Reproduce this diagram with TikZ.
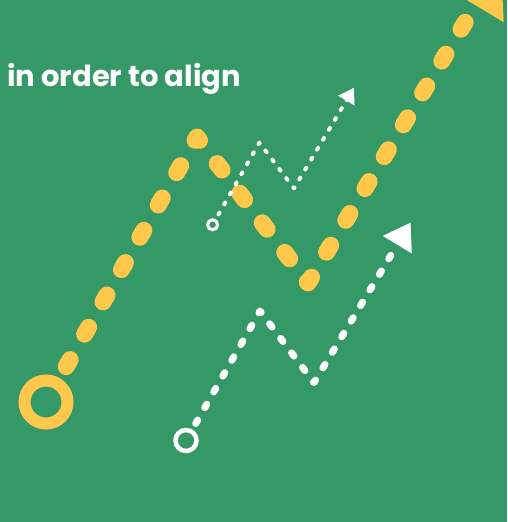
\documentclass[tikz,border=0pt]{standalone}
\usepackage{fontspec}
\newfontfamily\titlefont{Poppins}
\usetikzlibrary{
    arrows.meta,
    calc
}
\definecolor{bggreen}{RGB}{52,153,102}
\definecolor{trailyellow}{RGB}{255,200,75}

\begin{document}
\begin{tikzpicture}[x=1pt,y=-1pt,
    startring/.style={circle,draw,inner sep=0pt,outer sep=0pt},
    ytrail/.style={trailyellow,line width=17pt,line cap=round,line join=round,
        dash pattern=on 8pt off 29.2pt,-{Triangle[length=50pt,width=62pt]}},
    wtrail/.style={white,line width=7pt,line cap=round,line join=round,
        dash pattern=on 4pt off 14.2pt,-{Triangle[length=26pt,width=32pt]}},
    wdots/.style={white,line width=4pt,line cap=round,line join=round,
        dash pattern=on 2pt off 9.55pt,-{Triangle[length=15pt,width=18pt]}}
]

\useasboundingbox (0,0) rectangle (507,522);
\fill[bggreen] (0,0) rectangle (507,522);
\clip (0,0) rectangle (507,522);

\node[anchor=base west,inner sep=0pt,text=white,
      font=\titlefont\bfseries\fontsize{29}{29}\selectfont] (caption) at (7,86.5) {in order to align};

% yellow
\node[startring,draw=trailyellow,line width=12pt,minimum size=43pt] (ring) at (46,402) {};
\coordinate (ypeak) at (197,137);
\coordinate (ybot) at (308,283);
\coordinate (ytip) at (501.3,-37.6);
\draw[ytrail,dash phase=17.9pt] (ring) -- (ypeak) -- (ybot) -- (ytip);

% big white
\node[startring,draw=white,line width=4.5pt,minimum size=21pt] (bigstart) at (186,440.5) {};
\coordinate (wpeak) at (260,311);
\coordinate (wbot) at (314,382.7);
\coordinate (wtip) at (410.7,222.4);
\draw[wtrail,dash phase=9.1pt] (bigstart) -- (wpeak) -- (wbot) -- (wtip);

% small white
\node[startring,draw=white,line width=3pt,minimum size=10pt] (smallstart) at (212.6,224.8) {};
\coordinate (speak) at (259.3,142.7);
\coordinate (sbot) at (294,188.3);
\coordinate (stip) at (354,87.7);
\draw[wdots,dash phase=4.55pt] (smallstart) -- (speak) -- (sbot) -- (stip);

\end{tikzpicture}
\end{document}
